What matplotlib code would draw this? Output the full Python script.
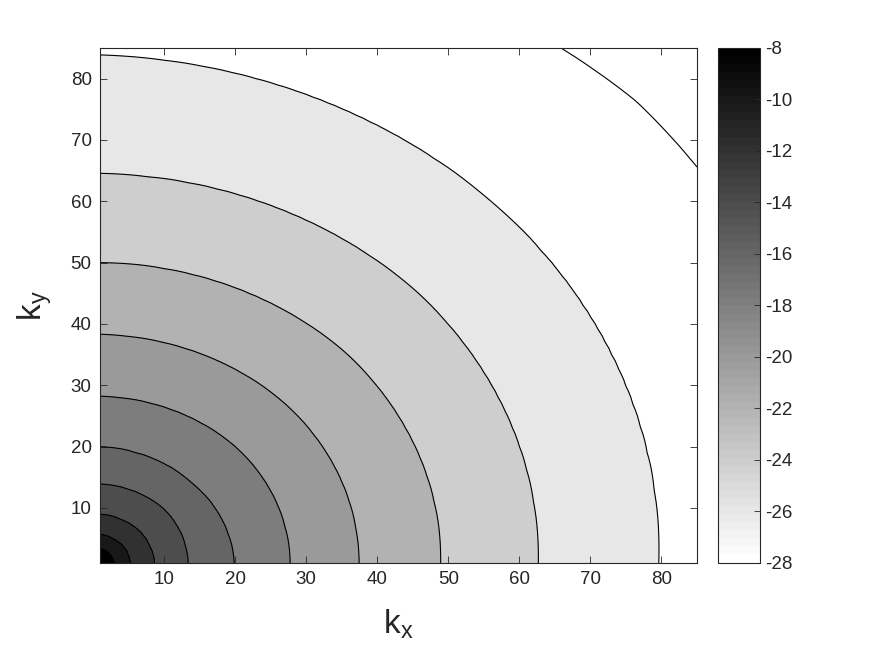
import numpy as np
import matplotlib
matplotlib.use("Agg")
import matplotlib.pyplot as plt
from matplotlib.colors import Normalize
from matplotlib.cm import ScalarMappable

plt.rcParams['font.family'] = ['Liberation Sans', 'DejaVu Sans']
plt.rcParams['mathtext.fontset'] = 'custom'
plt.rcParams['mathtext.rm'] = 'Liberation Sans'
plt.rcParams['mathtext.default'] = 'regular'
plt.rcParams['axes.unicode_minus'] = False

# contour levels and where each one crosses the kx axis, the diagonal and the ky axis
levels = [-8, -10, -12, -14, -16, -18, -20, -22, -24, -26, -28]
radius_x = [3.1, 5.2, 8.6, 13.3, 19.9, 27.7, 37.4, 48.9, 62.6, 79.5, 104.0]
radius_diag = [3.5, 5.7, 9.0, 14.0, 19.8, 28.3, 38.2, 50.1, 64.2, 82.0, 108.0]
radius_y = [3.8, 5.7, 9.0, 13.9, 20.0, 28.2, 38.3, 50.0, 64.5, 83.9, 105.0]
kx = np.arange(1, 86)
ky = np.arange(1, 86)
cbar_ticks = [-8, -10, -12, -14, -16, -18, -20, -22, -24, -26, -28]

# build the field from the read radii
KX, KY = np.meshgrid(kx, ky)
R = np.hypot(KX, KY)
TH = np.degrees(np.arctan2(KY, KX))
Z = np.zeros_like(R, dtype=float)
for i in range(R.shape[0]):
    for j in range(R.shape[1]):
        th = TH[i, j]
        rads = [np.interp(th, [0, 45, 90], [a, b, c])
                for a, b, c in zip(radius_x, radius_diag, radius_y)]
        Z[i, j] = np.interp(R[i, j], [0] + rads + [150], [-6] + levels + [-31])

cmap = plt.get_cmap('gray_r', 64)
norm = Normalize(vmin=-28, vmax=-8)

fill_levels = [-40] + sorted(levels) + [0]
band_colors = [cmap(norm(max(lv, -28))) for lv in fill_levels[:-1]]

fig = plt.figure(figsize=(8.75, 6.56), dpi=100)
ax = fig.add_axes([100 / 875, 93 / 656, 597 / 875, 515 / 656])
ax.contourf(KX, KY, Z, levels=fill_levels, colors=band_colors)
ax.contour(KX, KY, Z, levels=sorted(levels), colors='k', linewidths=0.8,
           linestyles='solid')

ax.set_xlim(1, 85)
ax.set_ylim(1, 85)
ax.set_xticks(range(10, 90, 10))
ax.set_yticks(range(10, 90, 10))
ax.tick_params(direction='in', length=5, width=0.6, top=True, right=True,
               labelsize=13.5, colors='#262626', pad=6)
for s in ax.spines.values():
    s.set_color('#262626')
    s.set_linewidth(0.8)
ax.set_xlabel('k$_x$', fontsize=24, color='#262626', labelpad=14)
ax.set_ylabel('k$_y$', fontsize=24, color='#262626', labelpad=12)

cax = fig.add_axes([718 / 875, 93 / 656, 42 / 875, 515 / 656])
sm = ScalarMappable(norm=norm, cmap=cmap)
cb = fig.colorbar(sm, cax=cax, ticks=cbar_ticks)
cb.outline.set_edgecolor('#262626')
cb.outline.set_linewidth(0.8)
cax.tick_params(direction='in', length=4, width=0.6, labelsize=13.5,
                colors='#262626', pad=4)

fig.savefig('out.png', dpi=100)
